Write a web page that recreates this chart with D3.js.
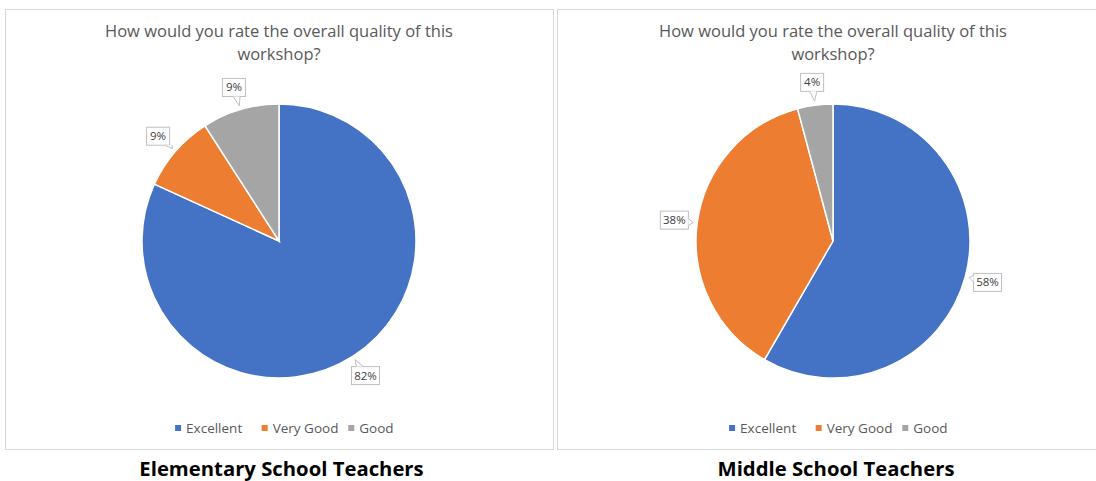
<!DOCTYPE html>
<html>
<head>
<meta charset="utf-8">
<script src="https://cdn.jsdelivr.net/npm/d3@7"></script>
<style>
  body { margin: 0; background: #fff; }
  svg { display: block; }
</style>
</head>
<body>
<svg id="chart" width="1096" height="481"></svg>
<script>
// data (response counts)
const categories = ["Excellent", "Very Good", "Good"];
const elementaryCounts = [9, 1, 1];
const middleCounts = [14, 9, 1];
const groupNames = ["Elementary School Teachers", "Middle School Teachers"];
const chartTitle = ["How would you rate the overall quality of this", "workshop?"];

const colors = d3.scaleOrdinal().domain(categories).range(["#4472C4", "#ED7D31", "#A5A5A5"]);
const font = "'Open Sans', 'Noto Sans', sans-serif";

const svg = d3.select("#chart");

const panels = [
  {x: 5.5, w: 548, counts: elementaryCounts, name: groupNames[0], cx: 279, nameX: 281.5},
  {x: 557.5, w: 560, counts: middleCounts, name: groupNames[1], cx: 833, nameX: 836}
];
const panelTop = 9.5, panelH = 440;
const radius = 137, cy = 241;

const pie = d3.pie().sort(null).value(d => d);
const arc = d3.arc().innerRadius(0).outerRadius(radius);

function drawPanel(p) {
  svg.append("rect")
    .attr("x", p.x).attr("y", panelTop)
    .attr("width", p.w).attr("height", panelH)
    .attr("fill", "#fff").attr("stroke", "#D9D9D9").attr("stroke-width", 1);

  const t = svg.append("text")
    .attr("text-anchor", "middle")
    .attr("font-family", font).attr("font-size", 16.5)
    .attr("fill", "#595959");
  chartTitle.forEach((line, i) => {
    t.append("tspan").attr("x", p.cx).attr("y", 37 + i * 23).text(line);
  });

  const g = svg.append("g").attr("transform", `translate(${p.cx},${cy})`);
  const arcs = pie(p.counts);
  const total = d3.sum(p.counts);

  g.selectAll("path.slice")
    .data(arcs)
    .enter().append("path")
    .attr("class", "slice")
    .attr("d", arc)
    .attr("fill", (d, i) => colors(categories[i]))
    .attr("stroke", "#fff").attr("stroke-width", 1.5);

  // callout labels
  const fmt = d3.format(".0%");
  arcs.forEach(d => {
    const a = (d.startAngle + d.endAngle) / 2;
    const lr = radius + 23;
    const lx = Math.sin(a) * lr, ly = -Math.cos(a) * lr;
    const tipR = radius + 4;
    const tx = Math.sin(a) * tipR, ty = -Math.cos(a) * tipR;
    const label = fmt(d.value / total);
    const hw = label.length > 2 ? 14 : 11.5, hh = 9;
    const dx = tx - lx, dy = ty - ly;
    const s = Math.min(hw / Math.abs(dx || 1e-6), hh / Math.abs(dy || 1e-6));
    const ex = lx + dx * s, ey = ly + dy * s;
    const lg = g.append("g");
    lg.append("rect")
      .attr("x", lx - hw).attr("y", ly - hh)
      .attr("width", hw * 2).attr("height", hh * 2)
      .attr("fill", "#fff").attr("stroke", "#BFBFBF").attr("stroke-width", 1);
    let b1, b2;
    if (hw / Math.abs(dx || 1e-6) < hh / Math.abs(dy || 1e-6)) {
      b1 = [ex, ey - 3.5]; b2 = [ex, ey + 3.5];
    } else {
      b1 = [ex - 3.5, ey]; b2 = [ex + 3.5, ey];
    }
    lg.append("path")
      .attr("d", `M${b1[0]},${b1[1]}L${tx},${ty}L${b2[0]},${b2[1]}`)
      .attr("fill", "#fff").attr("stroke", "#BFBFBF").attr("stroke-width", 1);
    lg.append("text")
      .attr("x", lx).attr("y", ly + 4)
      .attr("text-anchor", "middle")
      .attr("font-family", font).attr("font-size", 11.5)
      .attr("fill", "#404040")
      .text(label);
  });

  // legend
  const widths = categories.map(c => c.length * 6.4 + 29);
  const totalW = d3.sum(widths);
  let x0 = p.cx - totalW / 2 + 10;
  categories.forEach((c, i) => {
    svg.append("rect")
      .attr("x", x0).attr("y", 425)
      .attr("width", 6).attr("height", 6)
      .attr("fill", colors(c));
    svg.append("text")
      .attr("x", x0 + 11).attr("y", 432.5)
      .attr("font-family", font).attr("font-size", 13.5)
      .attr("fill", "#595959")
      .text(c);
    x0 += widths[i];
  });

  svg.append("text")
    .attr("x", p.nameX).attr("y", 476)
    .attr("text-anchor", "middle")
    .attr("font-family", font).attr("font-size", 20.3).attr("font-weight", "bold")
    .attr("fill", "#000")
    .text(p.name);
}

panels.forEach(drawPanel);
</script>
</body>
</html>
